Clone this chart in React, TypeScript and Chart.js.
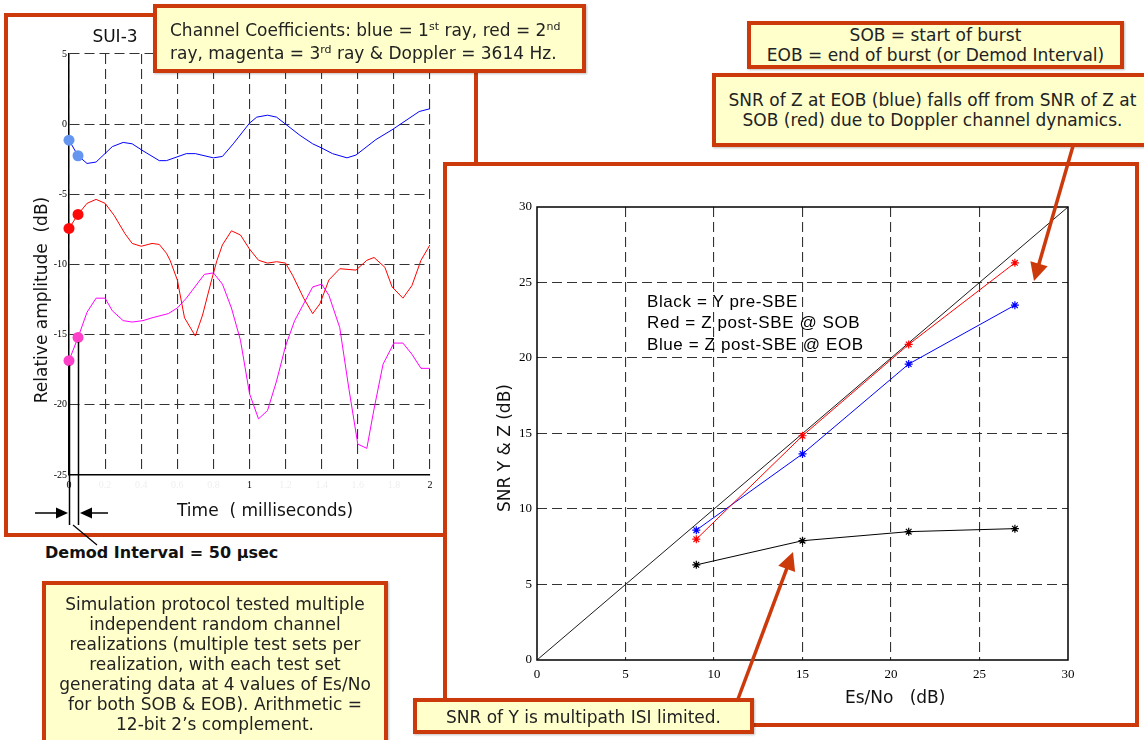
import React, { useEffect, useRef } from "react";
import { Chart, registerables } from "chart.js";

Chart.register(...registerables);

// ---------- Left chart: SUI-3 channel coefficients (time in ms, dB) ----------
const blueT = [0, 0.05, 0.1, 0.15, 0.24, 0.3, 0.35, 0.41, 0.5, 0.54, 0.65, 0.7, 0.8, 0.85, 0.91, 1.0, 1.04, 1.1, 1.15, 1.2, 1.28, 1.35, 1.4, 1.46, 1.54, 1.59, 1.7, 1.79, 1.94, 2.0];
const blueDb = [-1.14, -2.25, -2.8, -2.7, -1.6, -1.3, -1.4, -1.9, -2.6, -2.6, -2.1, -2.1, -2.4, -2.3, -1.4, 0.07, 0.5, 0.64, 0.5, 0, -0.8, -1.4, -1.7, -2.1, -2.4, -2.2, -1.1, -0.4, 0.9, 1.1];

const redT = [0, 0.05, 0.1, 0.15, 0.2, 0.25, 0.31, 0.35, 0.4, 0.46, 0.5, 0.54, 0.56, 0.6, 0.64, 0.7, 0.74, 0.79, 0.82, 0.85, 0.9, 0.95, 1.0, 1.05, 1.1, 1.15, 1.2, 1.24, 1.3, 1.35, 1.39, 1.44, 1.5, 1.59, 1.65, 1.69, 1.75, 1.79, 1.85, 1.9, 1.95, 2.0];
const redDb = [-7.43, -6.43, -5.64, -5.36, -5.64, -6.5, -7.8, -8.5, -8.7, -8.5, -8.57, -9.2, -9.7, -11.1, -13.8, -15.1, -13.6, -11.1, -9.7, -8.6, -7.6, -7.9, -8.9, -9.7, -9.9, -9.8, -9.9, -10.8, -12.4, -13.5, -12.8, -11.1, -10.3, -10.4, -9.7, -9.5, -10.2, -11.6, -12.4, -11.5, -9.7, -8.6];

const magT = [0, 0.05, 0.1, 0.15, 0.2, 0.24, 0.3, 0.35, 0.41, 0.46, 0.55, 0.6, 0.65, 0.75, 0.8, 0.85, 0.9, 0.95, 1.0, 1.05, 1.1, 1.15, 1.2, 1.25, 1.35, 1.4, 1.44, 1.5, 1.55, 1.6, 1.65, 1.69, 1.74, 1.8, 1.85, 1.9, 1.95, 2.0];
const magDb = [-16.85, -15.2, -13.4, -12.4, -12.4, -13.3, -14.0, -14.1, -14.0, -13.8, -13.5, -13.1, -12.4, -10.7, -10.6, -11.4, -13.1, -15.4, -19.2, -21.0, -20.4, -18.3, -15.8, -14.0, -11.6, -11.4, -12.2, -14.5, -18.8, -22.8, -23.1, -20.3, -17.1, -15.6, -15.6, -16.4, -17.4, -17.4];

const leftXTicks = [0, 0.2, 0.4, 0.6, 0.8, 1, 1.2, 1.4, 1.6, 1.8, 2];
const leftXLabels = ["0", "0.2", "0.4", "0.6", "0.8", "1", "1.2", "1.4", "1.6", "1.8", "2"];
const leftXMajor = ["0", "1", "2"];
const leftYTicks = [-25, -20, -15, -10, -5, 0, 5];

// ---------- Right chart: SNR vs Es/No ----------
const esNo = [9, 15, 21, 27];
const snrY = [6.3, 7.9, 8.5, 8.7];
const snrZsob = [8.0, 14.85, 20.9, 26.3];
const snrZeob = [8.6, 13.65, 19.6, 23.5];
const refX = [0, 30];
const refY = [0, 30];
const rightTicks = [0, 5, 10, 15, 20, 25, 30];

const FONT = '"DejaVu Sans", Verdana, sans-serif';
const SERIF = '"Liberation Serif", "Times New Roman", serif';
const ORANGE = "#cc3a0c";
const YELLOW = "#ffffcc";

const pts = (xs: number[], ys: number[]) => xs.map((x, i) => ({ x, y: ys[i] }));

function leftConfig(): any {
  const dot = (xs: number[], ys: number[], c: string) => ({
    data: pts(xs.slice(0, 2), ys.slice(0, 2)),
    showLine: false,
    clip: false,
    pointRadius: 5.5,
    pointBackgroundColor: c,
    pointBorderWidth: 0,
  });
  const line = (xs: number[], ys: number[], c: string) => ({
    data: pts(xs, ys),
    showLine: true,
    borderColor: c,
    borderWidth: 1,
    pointRadius: 0,
    tension: 0,
  });
  return {
    type: "scatter",
    data: {
      datasets: [
        dot(blueT, blueDb, "#6496f0"),
        dot(redT, redDb, "#ff0a0a"),
        dot(magT, magDb, "#ff40c8"),
        line(blueT, blueDb, "#0000ff"),
        line(redT, redDb, "#ff0000"),
        line(magT, magDb, "#ff00ff"),
      ],
    },
    options: {
      animation: false,
      responsive: false,
      devicePixelRatio: 1,
      layout: { padding: { top: 54, right: 50, left: 0, bottom: 0 } },
      plugins: { legend: { display: false }, tooltip: { enabled: false }, title: { display: false } },
      scales: {
        x: {
          type: "linear",
          min: 0,
          max: 2,
          afterBuildTicks: (a: any) => {
            a.ticks = leftXTicks.map((v) => ({ value: v }));
          },
          afterFit: (a: any) => {
            a.height = 65;
          },
          grid: { color: "#333", lineWidth: 1.1, drawTicks: false },
          border: { display: true, color: "#000", width: 1.5, dash: [10, 5] },
          ticks: {
            padding: 4,
            autoSkip: false,
            maxRotation: 0,
            font: { family: SERIF, size: 10 },
            color: (c: any) => (leftXMajor.includes(leftXLabels[c.index]) ? "#000" : "#efefef"),
            callback: (_v: any, i: number) => leftXLabels[i],
          },
        },
        y: {
          type: "linear",
          min: -25,
          max: 5,
          afterBuildTicks: (a: any) => {
            a.ticks = leftYTicks.map((v) => ({ value: v }));
          },
          afterFit: (a: any) => {
            a.width = 69;
          },
          grid: { color: "#333", lineWidth: 1.1, drawTicks: false },
          border: { display: true, color: "#000", width: 1.5, dash: [10, 5] },
          ticks: {
            padding: 2,
            autoSkip: false,
            font: { family: SERIF, size: 10 },
            color: "#000",
            callback: (v: any) => String(v),
          },
        },
      },
    },
  };
}

const frameBox = {
  id: "frameBox",
  afterDatasetsDraw(chart: any) {
    const { ctx, chartArea } = chart;
    ctx.save();
    ctx.strokeStyle = "#000";
    ctx.lineWidth = 1.5;
    ctx.strokeRect(chartArea.left, chartArea.top, chartArea.right - chartArea.left, chartArea.bottom - chartArea.top);
    ctx.restore();
  },
};

function rightConfig(): any {
  const series = (xs: number[], ys: number[], c: string) => ({
    data: pts(xs, ys),
    showLine: true,
    borderColor: c,
    borderWidth: 1,
    pointStyle: "star",
    pointRadius: 4,
    pointBorderColor: c,
    pointBorderWidth: 1.2,
    tension: 0,
  });
  const tickCfg = {
    autoSkip: false,
    maxRotation: 0,
    font: { family: SERIF, size: 13 },
    color: "#000",
    callback: (v: any) => String(v),
  };
  return {
    type: "scatter",
    data: {
      datasets: [
        series(esNo, snrY, "#000000"),
        series(esNo, snrZsob, "#ff0000"),
        series(esNo, snrZeob, "#0000ff"),
        {
          data: pts(refX, refY),
          showLine: true,
          borderColor: "#000",
          borderWidth: 0.9,
          pointRadius: 0,
        },
      ],
    },
    plugins: [frameBox],
    options: {
      animation: false,
      responsive: false,
      devicePixelRatio: 1,
      layout: { padding: { top: 41, right: 67, left: 0, bottom: 0 } },
      plugins: { legend: { display: false }, tooltip: { enabled: false }, title: { display: false } },
      scales: {
        x: {
          type: "linear",
          min: 0,
          max: 30,
          afterBuildTicks: (a: any) => {
            a.ticks = rightTicks.map((v) => ({ value: v }));
          },
          afterFit: (a: any) => {
            a.height = 62;
          },
          grid: { color: (c: any) => (c.index === 0 || c.index === rightTicks.length - 1 ? "rgba(0,0,0,0)" : "#333"), lineWidth: 1.1, drawTicks: false },
          border: { display: false, dash: [10, 5] },
          ticks: { ...tickCfg, padding: 7 },
        },
        y: {
          type: "linear",
          min: 0,
          max: 30,
          afterBuildTicks: (a: any) => {
            a.ticks = rightTicks.map((v) => ({ value: v }));
          },
          afterFit: (a: any) => {
            a.width = 90;
          },
          grid: { color: (c: any) => (c.index === 0 || c.index === rightTicks.length - 1 ? "rgba(0,0,0,0)" : "#333"), lineWidth: 1.1, drawTicks: false },
          border: { display: false, dash: [10, 5] },
          ticks: { ...tickCfg, padding: 5 },
        },
      },
    },
  };
}

function ChartCanvas({ left, top, width, height, config }: any) {
  const ref = useRef<HTMLCanvasElement>(null);
  useEffect(() => {
    const chart = new Chart(ref.current as HTMLCanvasElement, config());
    return () => chart.destroy();
  }, []);
  return (
    <canvas
      ref={ref}
      width={width}
      height={height}
      style={{ position: "absolute", left, top, width, height }}
    />
  );
}

function Arrow({ x1, y1, x2, y2, color, w, hl, hw }: any) {
  const dx = x2 - x1;
  const dy = y2 - y1;
  const L = Math.hypot(dx, dy);
  const ux = dx / L;
  const uy = dy / L;
  const bx = x2 - ux * hl;
  const by = y2 - uy * hl;
  const nx = -uy;
  const ny = ux;
  return (
    <g>
      <line x1={x1} y1={y1} x2={bx + ux} y2={by + uy} stroke={color} strokeWidth={w} />
      <polygon
        points={`${x2},${y2} ${bx + (nx * hw) / 2},${by + (ny * hw) / 2} ${bx - (nx * hw) / 2},${by - (ny * hw) / 2}`}
        fill={color}
      />
    </g>
  );
}

const boxStyle = (left: number, top: number, width: number, height: number): React.CSSProperties => ({
  position: "absolute",
  left,
  top,
  width,
  height,
  boxSizing: "border-box",
  background: YELLOW,
  border: `4px solid ${ORANGE}`,
  boxShadow: "1px 1px 2px rgba(0,0,0,0.25)",
});

const textStyle = (extra: React.CSSProperties): React.CSSProperties => ({
  position: "absolute",
  fontFamily: FONT,
  fontSize: 17,
  lineHeight: "20px",
  color: "#222",
  whiteSpace: "pre",
  ...extra,
});

const centered = (cx: number, top: number): React.CSSProperties =>
  textStyle({ left: cx - 300, width: 600, top, textAlign: "center" });

const Sup = ({ children }: any) => (
  <span style={{ fontSize: 11, position: "relative", top: -6 }}>{children}</span>
);

export default function App() {
  return (
    <div
      style={{
        position: "fixed",
        left: 0,
        top: 0,
        width: 1144,
        height: 740,
        background: "#fff",
        overflow: "hidden",
        fontFamily: FONT,
      }}
    >
      {/* left frame */}
      <div
        style={{
          position: "absolute",
          left: 4,
          top: 13,
          width: 474,
          height: 524,
          boxSizing: "border-box",
          border: `4px solid ${ORANGE}`,
          background: "#fff",
        }}
      />
      <ChartCanvas left={0} top={0} width={480} height={540} config={leftConfig} />
      <div style={textStyle({ left: 65, width: 100, top: 26, textAlign: "center", color: "#111" })}>SUI-3</div>
      <div
        style={textStyle({
          left: 41 - 150,
          top: 300 - 10,
          width: 300,
          textAlign: "center",
          transform: "rotate(-90deg)",
          color: "#111",
        })}
      >
        {"Relative amplitude  (dB)"}
      </div>
      <div style={textStyle({ left: 177, top: 500, color: "#111" })}>{"Time  ( milliseconds)"}</div>
      <div style={textStyle({ left: 45, top: 543, fontSize: 16, fontWeight: "bold", color: "#111" })}>
        {"Demod Interval = 50 \u03bcsec"}
      </div>

      {/* right frame */}
      <div
        style={{
          position: "absolute",
          left: 443,
          top: 162,
          width: 696,
          height: 565,
          boxSizing: "border-box",
          border: `4px solid ${ORANGE}`,
          background: "#fff",
        }}
      />
      <ChartCanvas left={447} top={166} width={688} height={556} config={rightConfig} />
      <div
        style={textStyle({
          left: 504 - 150,
          top: 448 - 10,
          width: 300,
          textAlign: "center",
          transform: "rotate(-90deg)",
          color: "#111",
        })}
      >
        {"SNR Y & Z (dB)"}
      </div>
      <div style={textStyle({ left: 845, top: 687, color: "#111" })}>{"Es/No   (dB)"}</div>
      <div
        style={{
          position: "absolute",
          left: 647,
          top: 290.5,
          fontFamily: '"Liberation Sans", Arial, sans-serif',
          fontSize: 17,
          letterSpacing: "0.6px",
          lineHeight: "21.5px",
          whiteSpace: "pre",
          color: "#000",
        }}
      >
        {"Black = Y pre-SBE\nRed = Z post-SBE @ SOB\nBlue = Z post-SBE @ EOB"}
      </div>

      {/* callouts */}
      <div style={boxStyle(153, 4, 433, 69)} />
      <div style={textStyle({ left: 170, top: 20 })}>
        Channel Coefficients: blue = 1<Sup>st</Sup> ray, red = 2<Sup>nd</Sup>
        {"\n"}ray, magenta = 3<Sup>rd</Sup> ray &amp; Doppler = 3614 Hz.
      </div>

      <div style={boxStyle(747, 21, 377, 48)} />
      <div style={centered(935.5, 25.3)}>{"SOB = start of burst\nEOB = end of burst (or Demod Interval)"}</div>

      <div style={boxStyle(712, 73, 440, 74)} />
      <div style={centered(932.5, 90.3)}>
        {"SNR of Z at EOB (blue) falls off from SNR of Z at\nSOB (red) due to Doppler channel dynamics."}
      </div>

      <div style={boxStyle(42, 581, 346, 170)} />
      <div style={centered(215, 594)}>
        {
          "Simulation protocol tested multiple\nindependent random channel\nrealizations (multiple test sets per\nrealization, with each test set\ngenerating data at 4 values of Es/No\nfor both SOB & EOB). Arithmetic =\n12-bit 2\u2019s complement."
        }
      </div>

      <div style={boxStyle(413, 698, 341, 36)} />
      <div style={centered(583.5, 707)}>{"SNR of Y is multipath ISI limited."}</div>

      {/* arrows & demod markers */}
      <svg
        width={1144}
        height={740}
        style={{ position: "absolute", left: 0, top: 0, pointerEvents: "none" }}
      >
        <Arrow x1={1073} y1={146} x2={1034} y2={281} color={ORANGE} w={3.5} hl={18} hw={18} />
        <Arrow x1={738} y1={699} x2={793} y2={552} color={ORANGE} w={3.5} hl={18} hw={18} />
        <line x1={69.5} y1={365} x2={69.5} y2={525} stroke="#000" strokeWidth={1.5} />
        <line x1={78.5} y1={342} x2={78.5} y2={525} stroke="#000" strokeWidth={1.5} />
        <Arrow x1={35} y1={513} x2={68} y2={513} color="#000" w={1.5} hl={12} hw={11} />
        <Arrow x1={108} y1={513} x2={80} y2={513} color="#000" w={1.5} hl={12} hw={11} />
        <line x1={73} y1={525} x2={97} y2={545} stroke="#000" strokeWidth={1.2} />
      </svg>
    </div>
  );
}
